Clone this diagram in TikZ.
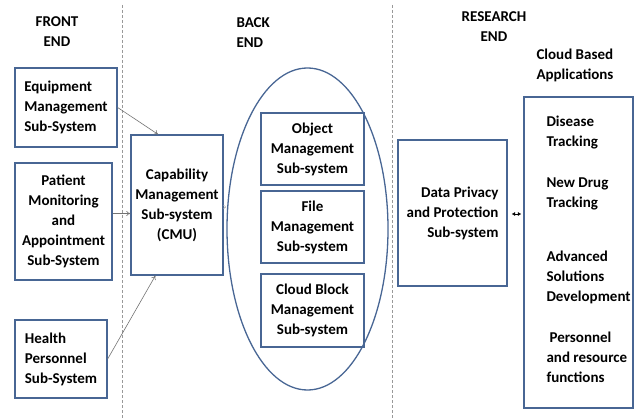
\documentclass[tikz,border=0pt]{standalone}
\usepackage{fontspec}
\setmainfont{Carlito}
\usetikzlibrary{shapes.geometric, arrows.meta}

\definecolor{boxblue}{RGB}{72,102,148}

\begin{document}
\begin{tikzpicture}[x=1pt, y=1pt,
    font=\fontsize{15}{20}\selectfont\bfseries,
    box/.style={draw=boxblue, line width=1.3pt, inner sep=0pt},
    sep/.style={draw=gray!80, densely dashed, line width=0.6pt},
    arr/.style={draw=gray!90!black, line width=0.6pt, -{To[length=4pt, width=5pt]}},
    head/.style={align=center}]

    \useasboundingbox (0,0) rectangle (634,418);

    % separators
    \draw[sep] (122,413) -- (122,0);
    \draw[sep] (392,413) -- (392,0);

    % headings
    \node[head] (fronthead) at (57,386.5) {FRONT\\END};
    \node[head, anchor=west, align=left] (backhead) at (233,385.5) {BACK\\END};
    \node[head] (researchhead) at (494,391.5) {RESEARCH\\END};
    \node[anchor=west, align=left] (cloudhead) at (533,353) {Cloud Based\\Applications};

    % front end
    \node[box, minimum width=102, minimum height=79, align=left] (equip) at (66,310.5)
        {Equipment\\Management\\Sub-System};
    \node[box, minimum width=97, minimum height=117, align=center] (patient) at (63.5,196.5)
        {Patient\\Monitoring\\and\\Appointment\\Sub-System};
    \node[box, minimum width=92, minimum height=78, align=left] (health) at (61,59)
        {Health\\Personnel\\Sub-System};

    % back end
    \node[box, minimum width=92, minimum height=140, align=center] (cmu) at (177,213)
        {Capability\\Management\\Sub-system\\(CMU)};
    \node[box, ellipse, minimum width=161, minimum height=322] (backend) at (307.5,189) {};
    \node[box, minimum width=103, minimum height=72, align=center] (object) at (312.5,269)
        {Object\\Management\\Sub-system};
    \node[box, minimum width=103, minimum height=72, align=center] (file) at (312.5,191)
        {File\\Management\\Sub-system};
    \node[box, minimum width=103, minimum height=73, align=center] (cloudblock) at (312.5,107.5)
        {Cloud Block\\Management\\Sub-system};

    % research end
    \node[box, minimum width=109, minimum height=146, align=right] (privacy) at (452.5,205)
        {Data Privacy\\and Protection\\Sub-system};
    \node[box, minimum width=109, minimum height=311] (apps) at (578.5,165.5) {};
    \node[anchor=west, align=left] (disease) at (543,285.5) {Disease\\Tracking};
    \node[anchor=west, align=left] (drug) at (543,224.5) {New Drug\\Tracking};
    \node[anchor=west, align=left] (advanced) at (543,141) {Advanced\\Solutions\\Development};
    \node[anchor=west, align=left] (personnel) at (543,61) {\hspace{3pt}Personnel\\and resource\\functions};

    % connectors
    \draw[arr] (equip.east) -- (cmu.105);
    \draw[arr] ([yshift=8]patient.east) -- ([yshift=8]patient.east -| cmu.west);
    \draw[arr] (health.east) -- (cmu.253);
    \draw[draw=gray!50, line width=0.5pt, -{To[length=3pt, width=4pt]}] ([yshift=-2]cmu.east) -- ([yshift=-2]cmu.east -| backend.west);
    \draw[line width=0.5pt, {Latex[length=3.5pt, width=4pt]}-{Latex[length=3.5pt, width=4pt]}]
        ([xshift=4pt, yshift=-1pt]privacy.east) -- ([xshift=-2pt, yshift=-1pt]privacy.east -| apps.west);

\end{tikzpicture}
\end{document}
